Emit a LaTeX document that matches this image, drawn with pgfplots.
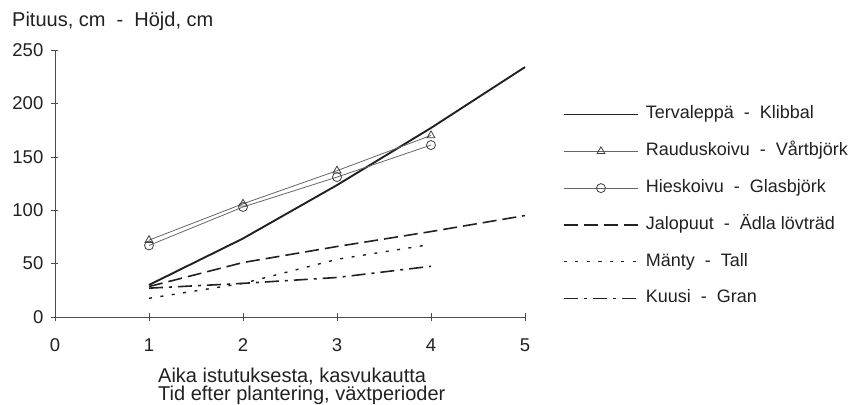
\documentclass[border=0pt]{standalone}
\usepackage{fontspec}
\setmainfont{Liberation Sans}
\usepackage{pgfplots}
\pgfplotsset{compat=1.18}
\definecolor{ink}{gray}{0.13}
\begin{document}
\begin{tikzpicture}
\path[use as bounding box] (-55bp,-88bp) rectangle (798bp,317bp);
\begin{axis}[
  scale only axis, width=470bp, height=267bp,
  at={(0,0)}, anchor=south west,
  xmin=0, xmax=5, ymin=0, ymax=250,
  clip=false,
  axis x line*=bottom, axis y line*=left,
  axis line style={line width=0.7bp, color=black!70},
  xtick={0,1,2,3,4,5}, ytick={0,50,100,150,200,250},
  tick align=center, major tick length=7bp,
  tick style={line width=0.6bp, black!70},
  /pgf/number format/assume math mode=true,
  ticklabel style={font=\fontsize{18.5bp}{20bp}\selectfont, text=ink},
  xticklabel style={anchor=north, inner sep=0pt, yshift=-18bp},
  yticklabel style={anchor=east, inner sep=0pt, xshift=-8bp},
  legend cell align=left,
  legend image code/.code={\draw[mark repeat=2,mark phase=2,#1] plot coordinates {(0bp,0bp) (37bp,0bp) (74bp,0bp)};},
  legend style={draw=none, fill=none, at={(1.08085,0.7903)}, anchor=north west,
    inner sep=0pt, outer sep=0pt, column sep=7bp, row sep=19.8bp,
    font=\fontsize{18bp}{20bp}\selectfont, text=ink,
    nodes={inner sep=0pt, text height=13bp, text depth=4bp}},
]
\addplot[ink, line width=1.9bp] coordinates {(1,30) (2,73.5) (3,123.5) (4,177) (5,234)};
\addlegendentry{Tervaleppä\ \ -\ \ Klibbal}
\addplot[black!60, line width=0.8bp, mark=triangle, mark size=4.5bp, mark options={solid, fill=white, draw=black!75, line width=0.8bp}] coordinates {(1,72) (2,106) (3,137) (4,170)};
\addlegendentry{Rauduskoivu\ \ -\ \ Vårtbjörk}
\addplot[black!60, line width=0.8bp, mark=o, mark size=4.5bp, mark options={solid, fill=white, draw=black!75, line width=0.8bp}] coordinates {(1,67) (2,103) (3,131) (4,161)};
\addlegendentry{Hieskoivu\ \ -\ \ Glasbjörk}
\addplot[ink, line width=1.6bp, dash pattern=on 14bp off 6bp] coordinates {(1,28.5) (2,51) (3,66) (4,80) (5,95)};
\addlegendentry{Jalopuut\ \ -\ \ Ädla lövträd}
\addplot[ink, line width=1.4bp, dash pattern=on 3bp off 8.5bp] coordinates {(1,17.5) (2,31.5) (3,54) (4,68)};
\addlegendentry{Mänty\ \ -\ \ Tall}
\addplot[ink, line width=1.6bp, dash pattern=on 14bp off 6bp on 3bp off 6bp] coordinates {(1,27) (2,31.5) (3,37) (4,47.5)};
\addlegendentry{Kuusi\ \ -\ \ Gran}
\end{axis}
\node[anchor=west, inner sep=0pt, text=ink, font=\fontsize{20bp}{22bp}\selectfont] at (-43bp,296bp) {Pituus, cm\ \ -\ \ Höjd, cm};
\node[anchor=north west, inner sep=0pt, text=ink, align=left, font=\fontsize{20bp}{18bp}\selectfont] at (103bp,-51bp) {Aika istutuksesta, kasvukautta\\Tid efter plantering, växtperioder};
\end{tikzpicture}
\end{document}
